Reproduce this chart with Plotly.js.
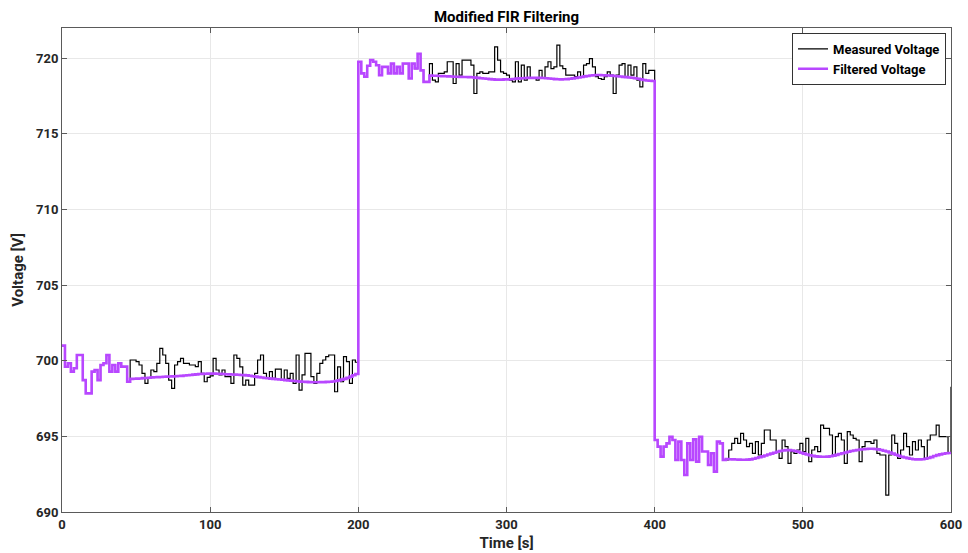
<!DOCTYPE html>
<html>
<head>
<meta charset="utf-8">
<script src="https://cdn.plot.ly/plotly-3.0.1.min.js"></script>
<style>html,body{margin:0;padding:0;background:#fff;}#chart{width:968px;height:553px;}</style>
</head>
<body>
<div id="chart"></div>
<script>
// Sample period of the recorded signal (s)
const sampleStart = 0;
const samplePeriod = 2;

// Measured voltage, 0..198 s
const measured1 = [
  701.0, 699.6, 699.83, 699.28, 699.5, 700.38, 700.38, 698.72, 697.84, 697.84,
  699.28, 699.39, 698.72, 699.72, 699.83, 700.38, 699.28, 699.72, 699.28, 699.83,
  699.61, 699.61, 698.61,
  700.05, 700.05, 699.94, 699.72, 699.17, 698.5, 698.84, 699.39, 699.28, 699.83,
  700.82, 700.38, 699.83, 698.72, 698.17, 699.72, 699.94, 700.16, 699.83, 699.83,
  699.72, 699.72, 699.61, 699.94, 699.17, 698.61, 698.9, 699.0, 700.16,
  699.39, 699.06, 699.39, 698.95, 698.95, 698.5, 700.38, 700.16, 699.6, 698.39,
  698.72, 698.39, 698.39, 699.17, 700.05, 700.38, 699.17, 698.84, 699.28, 698.84,
  699.44, 699.44, 698.72, 699.39, 698.84, 699.17, 698.5, 700.38, 698.06, 699.06,
  700.49, 700.49, 698.95, 698.5, 699.17, 699.83, 700.05, 700.27, 700.38, 700.38,
  697.95, 699.6, 698.61, 700.27, 699.94, 698.5, 700.05, 699.9
];
// Measured voltage, 200..398 s
const measured2 = [
  719.77, 719.0, 718.78, 719.5, 719.88, 719.77, 719.54, 718.88, 719.43, 719.43,
  719.0, 719.65, 719.0, 719.43, 719.0, 719.65, 719.65, 718.66, 719.65, 719.32,
  720.3, 719.2, 718.44, 718.44,
  719.65, 718.55, 718.44, 719.0, 719.0, 719.1, 719.77, 719.77, 718.33, 719.65,
  718.88, 719.88, 719.88, 719.88, 719.54, 717.67, 719.0, 719.1, 719.0, 719.0,
  719.1, 719.1, 720.75, 719.88, 719.1, 719.0, 718.88, 718.55, 718.44, 719.77,
  718.44, 719.54, 718.55, 719.43, 718.66, 718.66, 718.55, 719.2, 718.66, 719.43,
  719.77, 719.32, 719.43, 720.87, 719.5, 719.32, 718.88, 718.88, 718.88, 718.78,
  719.1, 718.78, 719.54, 719.65,
  719.98, 719.43, 718.78, 718.66, 718.6, 718.78, 719.1, 718.88, 717.67, 718.88,
  719.54, 719.65, 718.78, 719.54, 718.88, 719.43, 718.55, 718.11, 719.65, 719.0,
  719.2, 719.2
];
// Measured voltage, 400..600 s
const measured3 = [
  694.76, 694.32, 693.66, 694.32, 694.54, 694.98, 694.76, 693.44, 694.65, 693.44,
  692.45, 694.54, 693.44, 694.8, 693.33, 694.98, 694.0, 694.0, 693.11, 693.88,
  692.67, 694.65, 694.54, 693.44,
  693.44, 694.1, 694.54, 694.87, 694.54, 695.2, 694.76, 694.32, 694.54, 693.88,
  694.65, 693.77, 694.54, 695.42, 695.42,
  694.76, 694.76, 693.99, 693.55, 694.76, 694.32, 693.22, 693.99, 693.88, 694.1,
  694.54, 693.99, 694.87, 693.33, 694.1, 694.32, 693.99, 695.75, 695.53, 695.53,
  695.09, 693.77, 694.98, 695.2, 694.76, 693.22, 695.31, 695.09, 694.87, 694.76,
  693.33, 694.32, 694.65, 694.65, 694.54, 694.76, 693.88, 693.77, 693.77, 691.12,
  693.77, 695.09, 694.54, 693.55, 694.1, 695.2, 694.32, 693.77, 694.65, 694.1,
  694.76, 694.32, 693.55, 694.76, 695.09, 695.09, 695.75, 694.98, 694.98, 694.98,
  693.9, 698.28
];

// Filtered voltage: follows the measured samples until the filter window fills
const filterStartup1 = 23;   // samples 0..44 s
const filterStartup2 = 24;   // samples 200..246 s
const filterStartup3 = 24;   // samples 400..446 s
const filteredTail1 = [
  698.80, 698.81, 698.82, 698.83, 698.85, 698.86, 698.88, 698.90, 698.91, 698.92,
  698.93, 698.94, 698.95, 698.96, 698.97, 698.98, 698.99, 699.00, 699.02, 699.04,
  699.06, 699.08, 699.10, 699.12, 699.13, 699.14, 699.15, 699.15, 699.15, 699.14,
  699.13, 699.12, 699.11, 699.10, 699.09, 699.08, 699.07, 699.06, 699.05, 699.03,
  699.01, 698.98, 698.95, 698.92, 698.89, 698.86, 698.84, 698.82, 698.80, 698.78,
  698.76, 698.74, 698.72, 698.70, 698.68, 698.66, 698.64, 698.62, 698.61, 698.60,
  698.59, 698.58, 698.58, 698.58, 698.59, 698.59, 698.60, 698.61, 698.63, 698.66,
  698.70, 698.75, 698.80, 698.87, 698.95, 699.04, 699.12
];
const filteredTail2 = [
  718.85, 718.84, 718.84, 718.83, 718.82, 718.81, 718.80, 718.79, 718.78, 718.78,
  718.77, 718.76, 718.76, 718.75, 718.74, 718.72, 718.70, 718.68, 718.66, 718.64,
  718.62, 718.60, 718.59, 718.59, 718.59, 718.60, 718.60, 718.61, 718.63, 718.65,
  718.67, 718.68, 718.69, 718.70, 718.70, 718.70, 718.70, 718.70, 718.69, 718.68,
  718.66, 718.64, 718.62, 718.61, 718.60, 718.61, 718.62, 718.64, 718.67, 718.70,
  718.73, 718.76, 718.80, 718.83, 718.86, 718.88, 718.89, 718.89, 718.88, 718.87,
  718.86, 718.85, 718.83, 718.81, 718.79, 718.77, 718.75, 718.73, 718.71, 718.68,
  718.64, 718.60, 718.56, 718.53, 718.51, 718.50
];
const filteredTail3 = [
  693.50, 693.49, 693.48, 693.47, 693.46, 693.45, 693.45, 693.46, 693.48, 693.52,
  693.57, 693.62, 693.68, 693.74, 693.80, 693.86, 693.92, 693.98, 694.03, 694.07,
  694.09, 694.09, 694.07, 694.03, 693.98, 693.92, 693.86, 693.80, 693.75, 693.71,
  693.68, 693.66, 693.65, 693.65, 693.66, 693.69, 693.73, 693.78, 693.83, 693.88,
  693.93, 693.98, 694.03, 694.07, 694.10, 694.13, 694.15, 694.17, 694.18, 694.18,
  694.17, 694.14, 694.10, 694.05, 694.00, 693.93, 693.86, 693.79, 693.72, 693.65,
  693.60, 693.56, 693.52, 693.49, 693.48, 693.48, 693.49, 693.52, 693.57, 693.63,
  693.70, 693.76, 693.81, 693.85, 693.88, 693.90, 693.92
];

const xTicks = [0, 100, 200, 300, 400, 500, 600];
const yTicks = [690, 695, 700, 705, 710, 715, 720];

const measured = measured1.concat(measured2, measured3);
const filtered = measured1.slice(0, filterStartup1).concat(filteredTail1,
  measured2.slice(0, filterStartup2), filteredTail2,
  measured3.slice(0, filterStartup3), filteredTail3);

const FONT = 'Roboto, "DejaVu Sans", sans-serif';
const axisCol = '#5a5a5a';
const textCol = '#262626';

const traces = [
  {type: 'scatter', mode: 'lines', name: 'Measured Voltage',
   x0: sampleStart, dx: samplePeriod, y: measured,
   line: {color: '#000000', width: 1.2, shape: 'hv'}},
  {type: 'scatter', mode: 'lines', name: 'Filtered Voltage',
   x0: sampleStart, dx: samplePeriod, y: filtered,
   line: {color: '#B847FF', width: 2.6, shape: 'hv'}}
];

const axisCommon = {
  showline: true, linecolor: axisCol, linewidth: 1, mirror: 'ticks',
  ticks: 'inside', ticklen: 5, tickcolor: axisCol, tickwidth: 1,
  showgrid: true, gridcolor: '#e8e8e8', gridwidth: 1, zeroline: false,
  tickfont: {family: FONT, size: 13, color: textCol, weight: 'bold'}
};

const layout = {
  width: 968, height: 553,
  margin: {l: 62, r: 17, t: 28, b: 41},
  paper_bgcolor: '#ffffff', plot_bgcolor: '#ffffff',
  showlegend: true,
  hovermode: false,
  title: {text: 'Modified FIR Filtering', x: 0.5, xref: 'paper', y: 0.97, yref: 'container', yanchor: 'middle',
          font: {family: FONT, size: 15, color: '#000', weight: 'bold'}},
  xaxis: Object.assign({}, axisCommon, {
    range: [0, 600], tickmode: 'array', tickvals: xTicks, ticktext: xTicks.map(String),
    title: {text: 'Time [s]', standoff: 6, font: {family: FONT, size: 15, color: textCol, weight: 'bold'}}
  }),
  yaxis: Object.assign({}, axisCommon, {
    range: [690, 722], tickmode: 'array', tickvals: yTicks, ticktext: yTicks.map(String),
    title: {text: 'Voltage [V]', standoff: 8, font: {family: FONT, size: 15, color: textCol, weight: 'bold'}}
  }),
  legend: {x: 0.9944, xanchor: 'right', y: 0.99, yanchor: 'top',
           bgcolor: '#ffffff', bordercolor: '#333333', borderwidth: 1,
           font: {family: FONT, size: 13, color: '#000', weight: 'bold'},
           itemwidth: 30, tracegroupgap: 0}
};

Plotly.newPlot('chart', traces, layout, {staticPlot: true, displayModeBar: false});
</script>
</body>
</html>
